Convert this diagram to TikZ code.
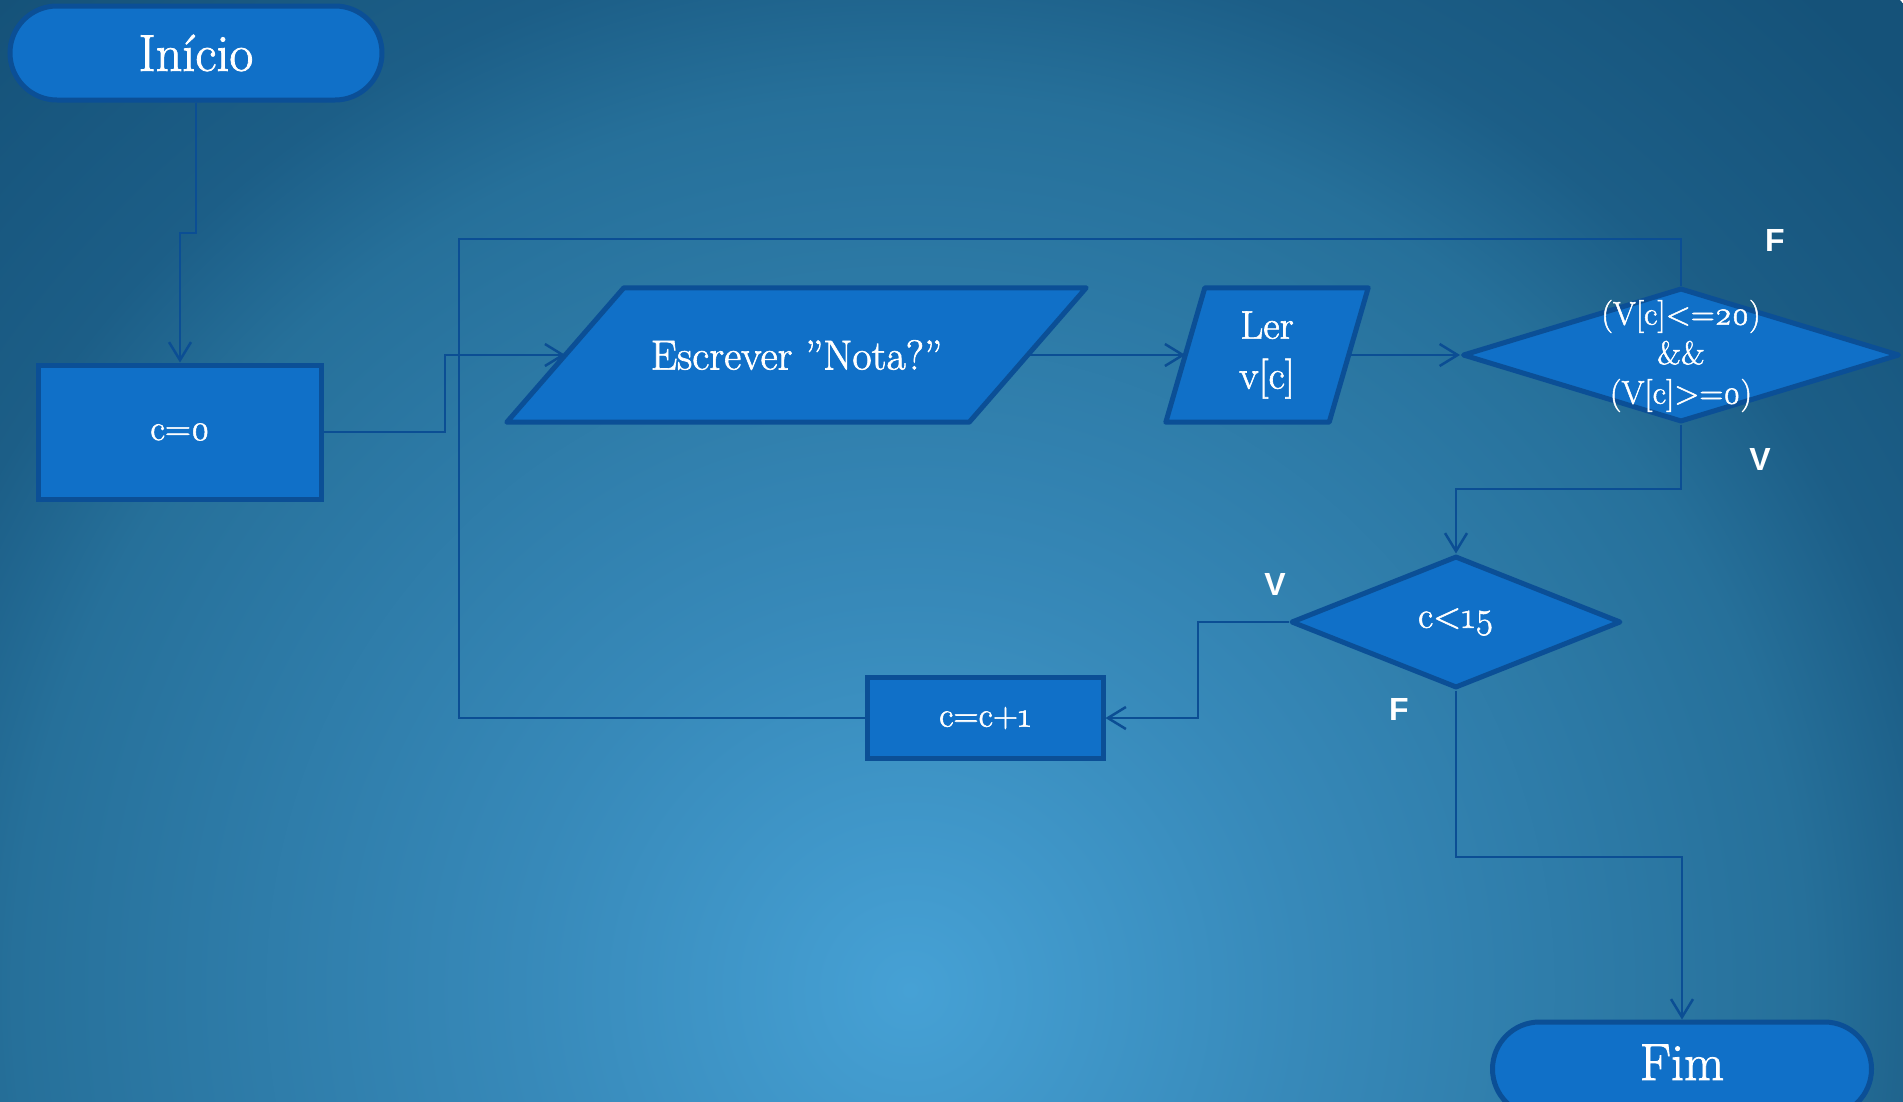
\documentclass[tikz,border=0pt]{standalone}
\usepackage{fontspec}
\setmainfont{Latin Modern Roman}[Numbers=OldStyle, FakeBold=1.5]
\newfontfamily\lblfont{Liberation Sans}
\usetikzlibrary{arrows.meta,shapes.geometric,calc}
\definecolor{bgA}{HTML}{46A1D5}
\definecolor{bgB}{HTML}{3789B9}
\definecolor{bgC}{HTML}{26709A}
\definecolor{bgD}{HTML}{1C5E87}
\definecolor{bgE}{HTML}{155279}
\definecolor{nodefill}{HTML}{1070C8}
\definecolor{nodeedge}{HTML}{0B4F96}
\definecolor{linec}{HTML}{0B4E94}
\pgfdeclareradialshading{bgshade}{\pgfpointorigin}{color(0bp)=(bgA); color(7bp)=(bgB); color(16bp)=(bgC); color(18.75bp)=(bgD); color(24bp)=(bgE); color(25bp)=(bgE)}
\pgfdeclarelayer{back}
\pgfdeclarelayer{shapes}
\pgfsetlayers{back,shapes,main}
\begin{document}
\begin{tikzpicture}[x=1pt,y=-1pt,
  base/.style={draw=nodeedge, fill=nodefill, line width=5pt, text=white, inner sep=0pt},
  term/.style={base, rectangle, rounded corners=47pt, minimum height=94pt, font=\fontsize{52}{56}\selectfont},
  proc/.style={base, rectangle, font=\fontsize{36}{40}\selectfont},
  iotext/.style={rectangle, text=white, inner sep=0pt, align=center},
  ioshape/.style={draw=nodeedge, fill=nodefill, line width=5pt, line join=round},
  dec/.style={base, diamond, line join=round},
  dtext/.style={text=white, inner sep=0pt, align=center},
  conn/.style={draw=linec, line width=2.5pt},
  arr/.style={conn, -{Straight Barb[length=18pt,width=22pt,line width=2.5pt]}},
  lbl/.style={text=white, font=\lblfont\bfseries\fontsize{32}{36}\selectfont, inner sep=0pt}
]
\useasboundingbox (0,0) rectangle (1903,1101);
\begin{pgfonlayer}{back}
  \clip (0,0) rectangle (1903,1101);
  \shade[shading=bgshade] (910,990) circle (1400pt);
\end{pgfonlayer}

% nodes
\node[term, minimum width=372pt] (start) at (196,53) {Início};
\node[proc, minimum width=283pt, minimum height=134pt] (c0) at (180,432) {c=0};
\node[iotext, minimum width=579pt, minimum height=134pt, font=\fontsize{42}{46}\selectfont] (esc) at (796.5,355) {Escrever ”Nota?”};
\node[iotext, minimum width=202pt, minimum height=134pt, font=\fontsize{40}{50}\selectfont] (ler) at (1267,355) {Ler\\v[c]};
\begin{pgfonlayer}{shapes}
  \draw[ioshape] (esc.south west) -- ($(esc.north west)+(117,0)$) -- (esc.north east) -- ($(esc.south east)+(-117,0)$) -- cycle;
  \draw[ioshape] (ler.south west) -- ($(ler.north west)+(39,0)$) -- (ler.north east) -- ($(ler.south east)+(-39,0)$) -- cycle;
\end{pgfonlayer}
\node[dec, minimum width=437pt, minimum height=134pt] (d1) at (1681,355) {};
\node[dtext, font=\fontsize{33}{39.5}\selectfont] (d1t) at (1681,356) {(V[c]<=20)\\\&\&\\(V[c]>=0)};
\node[dec, minimum width=330pt, minimum height=132pt, font=\fontsize{37}{40}\selectfont] (d2) at (1456,622) {c<15};
\node[proc, minimum width=236pt, minimum height=81pt, font=\fontsize{35}{38}\selectfont] (inc) at (985,718) {c=c+1};
\node[term, minimum width=379pt] (end) at (1682,1069) {\raisebox{-11pt}[0pt][0pt]{Fim}};

% connectors
\draw[arr] (start.south) -- (196,233) -| (c0.north);
\draw[arr] (c0.east) -- (445,432) |- ($(esc.west)+(58.5,0)$);
\draw[arr] ($(esc.east)+(-58.5,0)$) -- ($(ler.west)+(19.5,0)$);
\draw[arr] ($(ler.east)+(-19.5,0)$) -- (d1.west);
\draw[conn] (d1.north) |- (459,239) |- (inc.west);
\draw[arr] (d1.south) -- (1681,489) -| (d2.north);
\draw[arr] (d2.west) -- (1198,622) |- (inc.east);
\draw[arr] (d2.south) -- (1456,857) -| (end.north);

% labels
\node[lbl] (lF1) at (1775,240) {F};
\node[lbl] (lV1) at (1760,459) {V};
\node[lbl] (lV2) at (1275,584) {V};
\node[lbl] (lF2) at (1399,709) {F};
\end{tikzpicture}
\end{document}
